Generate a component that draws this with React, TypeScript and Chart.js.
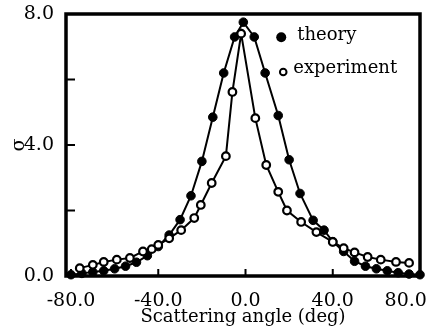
import React, { useEffect, useRef } from "react";
import { Chart, registerables } from "chart.js";

Chart.register(...registerables);

// ---- data ----
const theoryAngle = [-80, -75, -70, -65, -60, -55, -50, -45, -40, -35, -30, -25, -20, -15, -10, -5, -1, 4, 9, 15, 20, 25, 31, 36, 40, 45, 50, 55, 60, 65, 70, 75, 80];
const theorySigma = [0.04, 0.08, 0.12, 0.16, 0.22, 0.3, 0.42, 0.62, 0.9, 1.25, 1.72, 2.45, 3.5, 4.85, 6.2, 7.3, 7.75, 7.3, 6.2, 4.9, 3.55, 2.52, 1.7, 1.4, 1.05, 0.75, 0.45, 0.3, 0.22, 0.16, 0.1, 0.06, 0.04];

const experimentAngle = [-76, -70, -65, -59, -53, -47, -43, -40, -35, -29.5, -23.5, -20.5, -15.5, -9, -6, -2, 4.5, 9.5, 15, 19, 25.5, 32.5, 40, 45, 50, 56, 62, 69, 75];
const experimentSigma = [0.24, 0.34, 0.43, 0.5, 0.55, 0.75, 0.82, 0.95, 1.15, 1.4, 1.77, 2.17, 2.84, 3.66, 5.62, 7.4, 4.82, 3.39, 2.57, 2.0, 1.65, 1.34, 1.04, 0.85, 0.72, 0.58, 0.5, 0.43, 0.4];

const seriesNames = ["theory", "experiment"];
const xTickValues = [-80, -40, 0, 40, 80];
const yTickValues = [0, 2, 4, 6, 8];
const yLabelValues = [0, 4, 8];
const xTitle = "Scattering angle (deg)";
const yTitle = "σ";

const FONT_FAMILY = "'DejaVu Serif', serif";

const framePlugin = {
  id: "frameTicksLegend",
  afterDatasetsDraw(chart: any) {
    const { ctx, chartArea: a, scales } = chart;
    ctx.save();
    ctx.strokeStyle = "#000";
    // inward tick marks
    ctx.lineWidth = 2;
    ctx.beginPath();
    for (const v of yTickValues) {
      const y = scales.y.getPixelForValue(v);
      ctx.moveTo(a.left, y);
      ctx.lineTo(a.left + 9, y);
    }
    for (const v of xTickValues) {
      const x = scales.x.getPixelForValue(v);
      ctx.moveTo(x, a.bottom);
      ctx.lineTo(x, a.bottom - 7);
    }
    ctx.stroke();
    // frame
    ctx.lineWidth = 3.5;
    ctx.strokeRect(a.left, a.top, a.right - a.left, a.bottom - a.top);

    // legend inside the plot
    const w = a.right - a.left;
    const h = a.bottom - a.top;
    const lx = a.left + 0.608 * w;
    const rows = [a.top + 0.085 * h, a.top + 0.21 * h];
    ctx.font = "18px " + FONT_FAMILY;
    ctx.textBaseline = "middle";
    ctx.textAlign = "left";
    ctx.fillStyle = "#000";
    chart.data.datasets.forEach((ds: any, i: number) => {
      const y = rows[i];
      ctx.beginPath();
      if (i === 0) {
        ctx.arc(lx, y + 1, 5, 0, Math.PI * 2);
        ctx.fillStyle = "#000";
        ctx.fill();
      } else {
        ctx.arc(lx + 2, y + 3, 3.3, 0, Math.PI * 2);
        ctx.fillStyle = "#fff";
        ctx.fill();
        ctx.lineWidth = 2;
        ctx.stroke();
      }
      ctx.fillStyle = "#000";
      ctx.fillText(ds.label, lx + (i === 0 ? 16 : 12), y - 1);
    });
    ctx.restore();
  },
};

export default function App() {
  const canvasRef = useRef<HTMLCanvasElement | null>(null);

  useEffect(() => {
    document.body.style.margin = "0";
    const canvas = canvasRef.current;
    if (!canvas) return;
    const tickFont = { family: FONT_FAMILY, size: 19 };
    const chart = new Chart(canvas, {
      type: "line",
      data: {
        datasets: [
          {
            label: seriesNames[0],
            data: theoryAngle.map((x, i) => ({ x, y: theorySigma[i] })),
            borderColor: "#000",
            borderWidth: 2,
            backgroundColor: "#000",
            pointBackgroundColor: "#000",
            pointBorderColor: "#000",
            pointBorderWidth: 1,
            pointRadius: 4.3,
            tension: 0,
            order: 2,
            clip: 8,
          },
          {
            label: seriesNames[1],
            data: experimentAngle.map((x, i) => ({ x, y: experimentSigma[i] })),
            borderColor: "#000",
            borderWidth: 2,
            backgroundColor: "#fff",
            pointBackgroundColor: "#fff",
            pointBorderColor: "#000",
            pointBorderWidth: 2.2,
            pointRadius: 3.8,
            tension: 0,
            order: 1,
            clip: 8,
          },
        ],
      },
      options: {
        responsive: false,
        animation: false,
        layout: { padding: { top: 14, right: 18, left: 0, bottom: 0 } },
        plugins: {
          legend: { display: false },
          tooltip: { enabled: false },
        },
        scales: {
          x: {
            type: "linear",
            min: -82.3,
            max: 80,
            afterBuildTicks: (s: any) => {
              s.ticks = xTickValues.map((v) => ({ value: v }));
            },
            afterFit: (s: any) => {
              s.height = 53;
              s.paddingLeft = 0;
              s.paddingRight = 0;
            },
            ticks: {
              autoSkip: false,
              maxRotation: 0,
              padding: 6,
              color: "#000",
              font: tickFont,
              callback: (v: any) => (v === 80 ? "80.0\u2003\u2002" : Number(v).toFixed(1)),
            },
            grid: { display: false },
            border: { display: false },
            title: {
              display: true,
              text: xTitle,
              color: "#000",
              font: { family: FONT_FAMILY, size: 18 },
              padding: { top: 0, bottom: 1 },
            },
          },
          y: {
            type: "linear",
            min: 0,
            max: 8,
            afterBuildTicks: (s: any) => {
              s.ticks = yTickValues.map((v) => ({ value: v }));
            },
            afterFit: (s: any) => {
              s.width = 66;
              s.paddingTop = 0;
              s.paddingBottom = 0;
            },
            ticks: {
              padding: 4,
              color: "#000",
              font: tickFont,
              callback: (v: any) => (yLabelValues.includes(Number(v)) ? Number(v).toFixed(1) : ""),
            },
            grid: { display: false },
            border: { display: false },
            title: {
              display: true,
              text: yTitle,
              color: "#000",
              font: { family: FONT_FAMILY, size: 19 },
              padding: { top: 8, bottom: 0 },
            },
          },
        },
      },
      plugins: [framePlugin],
    } as any);
    return () => chart.destroy();
  }, []);

  return (
    <div style={{ width: 438, height: 329, background: "#fff" }}>
      <canvas ref={canvasRef} width={438} height={329} />
    </div>
  );
}
